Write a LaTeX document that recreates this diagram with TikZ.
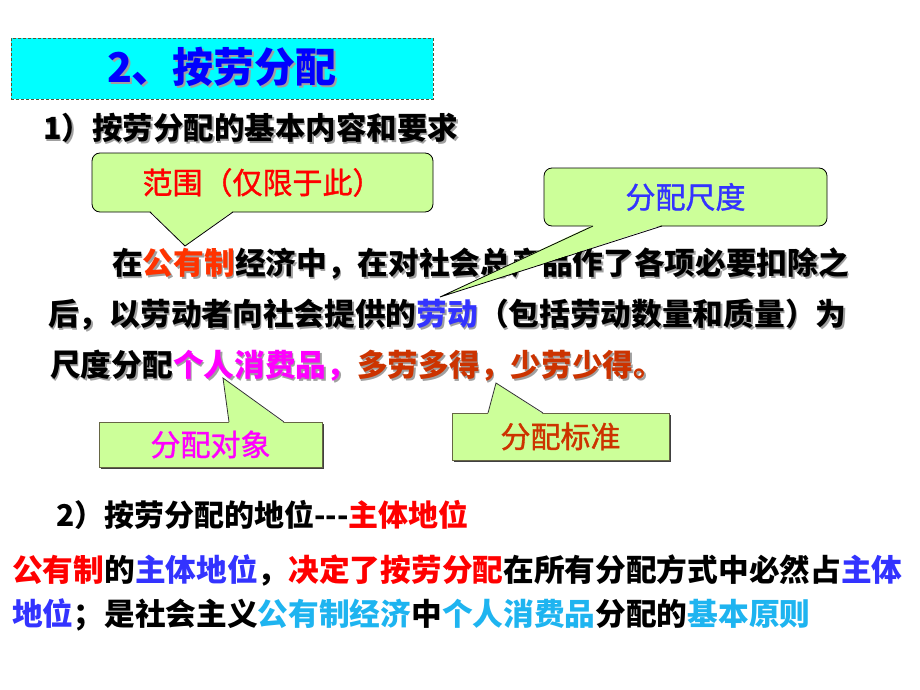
\documentclass[tikz,border=0pt]{standalone}
\usepackage{fontspec}
\setmainfont{Noto Sans CJK SC}
\usetikzlibrary{shadows}
\definecolor{titleblue}{HTML}{0000FF}
\definecolor{cyanfill}{HTML}{00FFFF}
\definecolor{calloutgreen}{HTML}{CCFF99}
\definecolor{redorange}{HTML}{FF3300}
\definecolor{labblue}{HTML}{3333FF}
\definecolor{magentac}{HTML}{FF00FF}
\definecolor{brownred}{HTML}{CC3300}
\definecolor{pured}{HTML}{FF0000}
\definecolor{skyc}{HTML}{1EB4F0}
\definecolor{dashc}{HTML}{555533}
\definecolor{shadowgray}{HTML}{A0A0A0}
\definecolor{boxedge}{HTML}{666644}
\newif\ifshadowpass
\newcommand\cc[2]{\ifshadowpass#2\else\textcolor{#1}{#2}\fi}
\newcommand\paraone{在\cc{redorange}{公有制}经济中，在对社会总产品作了各项必要扣除之}
\newcommand\paratwo{后，以劳动者向社会提供的\cc{labblue}{劳动}（包括劳动数量和质量）为}
\newcommand\parathree{尺度分配\cc{magentac}{个人消费品，}\cc{brownred}{多劳多得，少劳少得。}}
\newcommand\headone{1）按劳分配的基本内容和要求}
\begin{document}
\begin{tikzpicture}[x=1pt,y=-1pt,
  txt/.style={inner sep=0pt,anchor=base west,font=\fontsize{30.7}{36}\selectfont\bfseries},
  shadowtxt/.style={txt,text=shadowgray},
  callfont/.style={font=\fontsize{30}{36}\selectfont\addfontfeature{FakeBold=1.2}},
  roundcall/.style={draw=black,line width=0.8pt,fill=calloutgreen,rounded corners=8pt,inner sep=0pt,callfont},
  rectcall/.style={draw=boxedge,line width=0.8pt,fill=calloutgreen,inner sep=0pt,
    drop shadow={shadow xshift=1.5pt,shadow yshift=-1.5pt,fill=black!75,opacity=1},callfont}]
\useasboundingbox (0,0) rectangle (920,690);
\fill[white] (0,0) rectangle (920,690);

% title
\node[draw=dashc,dashed,dash pattern=on 3pt off 2pt,line width=0.8pt,fill=cyanfill,
  minimum width=422pt,minimum height=61pt,inner sep=0pt] (title) at (222,68.5) {};
\node[text=shadowgray,inner sep=0pt,anchor=base,font=\fontsize{41}{44}\selectfont\bfseries] (titles) at (224,85) {2、按劳分配};
\node[text=titleblue,inner sep=0pt,anchor=base,font=\fontsize{41}{44}\selectfont\bfseries] (titlet) at (222,83) {2、按劳分配};

% heading 1
\node[shadowtxt,font=\fontsize{30.5}{36}\selectfont\bfseries] (h1s) at (44.5,141) {\headone};
\node[txt,font=\fontsize{30.5}{36}\selectfont\bfseries] (h1) at (43,139.5) {\headone};

% paragraph
\node[shadowtxt] (p1s) at (113.5,276) {\shadowpasstrue\paraone};
\node[txt] (p1) at (112,274.5) {\paraone};
\node[shadowtxt] (p2s) at (49.5,327) {\shadowpasstrue\paratwo};
\node[txt] (p2) at (48,325.5) {\paratwo};
\node[shadowtxt] (p3s) at (51.5,378) {\shadowpasstrue\parathree};
\node[txt] (p3) at (50,376.5) {\parathree};

% callout 1
\node[roundcall,minimum width=341pt,minimum height=59pt,text=pured] (c1) at (262.5,182.5) {范围（仅限于此）};
\coordinate (c1tip) at (185,246);
\fill[calloutgreen] (150,211) -- (c1tip) -- (233,211) -- cycle;
\draw[line width=0.8pt] (150,212) -- (c1tip) -- (233,212);

% callout 2
\node[roundcall,minimum width=283pt,minimum height=58pt,text=labblue] (c2) at (685.5,197) {分配尺度};
\coordinate (c2tip) at (440,297);
\fill[calloutgreen] (593,225) -- (c2tip) -- (662,225) -- cycle;
\draw[line width=0.8pt] (593,226) -- (c2tip) -- (662,226);

% callout 3
\node[rectcall,minimum width=223pt,minimum height=45pt,text=magentac] (c3) at (210.5,444.5) {分配对象};
\coordinate (c3tip) at (223,378);
\fill[calloutgreen] (229,423) -- (c3tip) -- (284,423) -- cycle;
\draw[draw=black!80,line width=0.8pt] (229,422) -- (c3tip) -- (284,422);

% callout 4
\node[rectcall,minimum width=217pt,minimum height=47pt,text=brownred] (c4) at (560.5,436.5) {分配标准};
\coordinate (c4tip) at (496,383);
\fill[calloutgreen] (488,414) -- (c4tip) -- (543,414) -- cycle;
\draw[draw=black!80,line width=0.8pt] (488,413) -- (c4tip) -- (543,413);

% heading 2
\node[txt,font=\fontsize{30}{36}\selectfont\bfseries] (h2) at (56,526.5) {2）按劳分配的地位-{}-{}-\cc{pured}{主体地位}};

% bottom lines
\node[txt] (b1) at (12,581.5) {\cc{pured}{公有制}的\cc{labblue}{主体地位}，\cc{pured}{决定了按劳分配}在所有分配方式中必然占\cc{labblue}{主体}};
\node[txt] (b2) at (12,625.5) {\cc{labblue}{地位}；是社会主义\cc{skyc}{公有制经济}中\cc{skyc}{个人消费品}分配的\cc{skyc}{基本原则}};
\end{tikzpicture}
\end{document}
